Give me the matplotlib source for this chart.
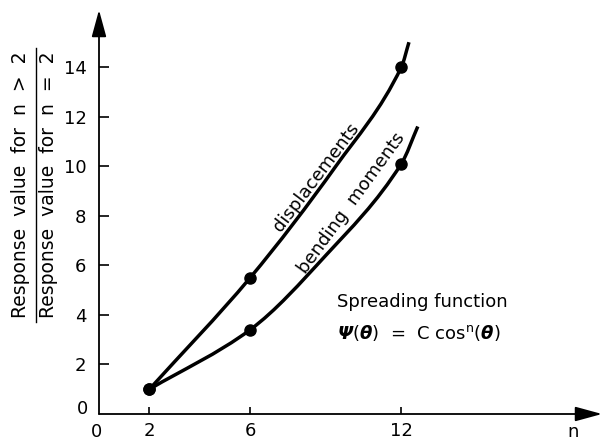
import numpy as np
import matplotlib
matplotlib.use("Agg")
import matplotlib.pyplot as plt
from matplotlib.lines import Line2D
from matplotlib.path import Path
from matplotlib.patches import PathPatch

plt.rcParams['font.family'] = ['DejaVu Sans']
plt.rcParams['mathtext.fontset'] = 'dejavusans'

# marked points
n_pts = [2, 6, 12]
disp_pts = [1.0, 5.5, 14.0]
bend_pts = [1.0, 3.4, 10.1]

# points along the drawn curves
disp_trace_n = [2, 6, 9.4, 12.0, 12.3]
disp_trace_v = [1.0, 5.5, 10.0, 14.0, 15.0]
bend_trace_n = [2, 6, 9, 12.0, 12.65]
bend_trace_v = [1.0, 3.4, 6.4, 10.1, 11.6]

xticks = [2, 6, 12]
yticks = [2, 4, 6, 8, 10, 12, 14]

TICKFONT = ['Liberation Sans Narrow', 'DejaVu Sans']


def curve(xs, ys):
    # smooth bezier path through the traced points (pchip-like tangents)
    x = np.asarray(xs, float)
    y = np.asarray(ys, float)
    h = np.diff(x)
    d = np.diff(y) / h
    m = np.empty_like(x)
    m[0], m[-1] = d[0], d[-1]
    for i in range(1, len(x) - 1):
        m[i] = 2 * d[i - 1] * d[i] / (d[i - 1] + d[i])
    verts = [(x[0], y[0])]
    codes = [Path.MOVETO]
    for i in range(len(x) - 1):
        verts += [(x[i] + h[i] / 3, y[i] + m[i] * h[i] / 3),
                  (x[i + 1] - h[i] / 3, y[i + 1] - m[i + 1] * h[i] / 3),
                  (x[i + 1], y[i + 1])]
        codes += [Path.CURVE4] * 3
    return Path(verts, codes)


def main():
    fig = plt.figure(figsize=(6.02, 4.43), dpi=100)
    W, H = 602, 443
    x0, y0 = 99, 414
    ax = fig.add_axes([x0 / W, 1 - y0 / H, (W - x0) / W, (y0 - 10) / H])
    ax.set_xlim(0, 19.96)
    ax.set_ylim(0, 16.3)

    for s in ['top', 'right', 'left', 'bottom']:
        ax.spines[s].set_visible(False)

    # axes with arrow heads
    arr = dict(arrowstyle='-|>,head_length=1.1,head_width=0.3', lw=1.3,
               color='k', mutation_scale=15, shrinkA=0, shrinkB=0)
    ax.annotate('', xy=(1, 0), xytext=(0, 0), xycoords='axes fraction', arrowprops=arr)
    ax.annotate('', xy=(0, 1), xytext=(0, 0), xycoords='axes fraction', arrowprops=arr)

    ax.set_xticks(xticks)
    ax.set_xticklabels([str(t) for t in xticks], family=TICKFONT)
    ax.set_yticks(yticks)
    ax.set_yticklabels([str(t) for t in yticks], family=TICKFONT)
    ax.tick_params(axis='x', direction='in', length=5, width=1.2, pad=6, labelsize=13)
    ax.tick_params(axis='y', direction='in', length=7, width=1.2, pad=9, labelsize=13)
    ax.text(-0.1, -0.35, '0', ha='center', va='top', fontsize=13, family=TICKFONT,
            clip_on=False)
    ax.text(-0.45, 0.2, '0', ha='right', va='center', fontsize=13, family=TICKFONT,
            clip_on=False)
    ax.text(18.8, -0.35, 'n', ha='center', va='top', fontsize=13, clip_on=False)

    for tn, tv in [(disp_trace_n, disp_trace_v), (bend_trace_n, bend_trace_v)]:
        ax.add_patch(PathPatch(curve(tn, tv), fill=False, edgecolor='k', lw=2.5,
                               capstyle='butt', joinstyle='round'))
    ax.plot(n_pts, disp_pts, 'o', color='k', ms=8, clip_on=False)
    ax.plot(n_pts, bend_pts, 'o', color='k', ms=8, clip_on=False)

    ax.text((316 - x0) / 25.2, (y0 - 177) / 24.8, 'displacements',
            rotation=53, ha='center', va='center', fontsize=13)
    ax.text((352 - x0) / 25.2, (y0 - 203) / 24.8, 'bending  moments',
            rotation=54, ha='center', va='center', fontsize=13)

    fig.text(337 / W, 1 - 302 / H, 'Spreading function', ha='left', va='center',
             fontsize=13)
    fig.text(337 / W, 1 - 333 / H,
             r'$\mathbfit{\Psi}$($\mathbfit{\theta}$)  =  C cos$^{\mathregular{n}}$($\mathbfit{\theta}$)',
             ha='left', va='center', fontsize=13)

    # y label as a fraction
    fig.text(21 / W, 1 - 185 / H, 'Response  value  for  n  >  2', rotation=90,
             ha='center', va='center', fontsize=13.5)
    fig.text(49 / W, 1 - 185 / H, 'Response  value  for  n  =  2', rotation=90,
             ha='center', va='center', fontsize=13.5)
    fig.add_artist(Line2D([36 / W, 36 / W], [1 - 48 / H, 1 - 322 / H],
                          color='k', lw=1.0, transform=fig.transFigure))

    fig.savefig('out.png', dpi=100)


if __name__ == "__main__":
    main()
